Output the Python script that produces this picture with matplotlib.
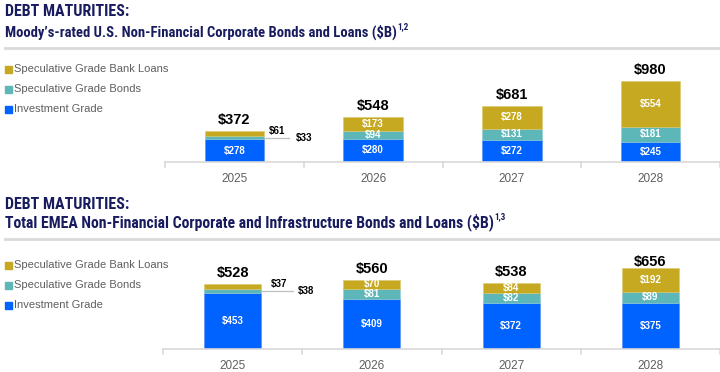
import matplotlib
matplotlib.use('Agg')
import matplotlib.pyplot as plt
from matplotlib import font_manager
from matplotlib.lines import Line2D
from matplotlib.patches import Rectangle

# ============ DATA ============
years = ['2025', '2026', '2027', '2028']

us_ig = [278, 280, 272, 245]
us_sg_bonds = [33, 94, 131, 181]
us_sg_loans = [61, 173, 278, 554]
us_totals = [372, 548, 681, 980]

emea_ig = [453, 409, 372, 375]
emea_sg_bonds = [38, 81, 82, 89]
emea_sg_loans = [37, 70, 84, 192]
emea_totals = [528, 560, 538, 656]

series_names = ['Speculative Grade Bank Loans', 'Speculative Grade Bonds', 'Investment Grade']

# ============ STYLE ============
C_LOANS = '#c6a921'
C_BONDS = '#5db6b8'
C_IG = '#0062ff'
NAVY = '#181b5e'
GRAY_TXT = '#5f5f5f'
GRAY_LINE = '#d9d9d9'

W, H = 720, 372
names = {f.name for f in font_manager.fontManager.ttflist}
NARROW = 'Liberation Sans'
for cand in ['Roboto Condensed', 'Liberation Sans Narrow', 'IBM Plex Sans Condensed',
             'Fira Sans Condensed', 'Barlow Semi Condensed']:
    if cand in names:
        NARROW = cand
        break
plt.rcParams['font.family'] = ['Liberation Sans', 'DejaVu Sans']

fig = plt.figure(figsize=(W / 100, H / 100), dpi=100)


def fx(px):
    return px / W


def fy(py):
    return 1 - py / H


def fit_text(y, s, size, target_right, lo):
    # resize the header font so the line ends about where it does in the reference
    t = fig.text(fx(5), fy(y), s, family=NARROW, fontsize=size, fontweight='bold',
                 color=NAVY, va='center', ha='left')
    fig.canvas.draw()
    w = t.get_window_extent().width
    scale = min(max((target_right - 5) / w, lo), 1.15)
    t.set_fontsize(size * scale)
    fig.canvas.draw()
    return t


def header(y_title, y_sub, y_rule, subtitle, sup, sub_right):
    fit_text(y_title, 'DEBT MATURITIES:', 13, 130, 0.88)
    t = fit_text(y_sub, subtitle, 10.5, sub_right, 0.85)
    bb = t.get_window_extent()
    fig.text(bb.x1 / W + 0.001, fy(y_sub - 5), sup, family=NARROW, fontsize=6.5,
             fontweight='bold', color=NAVY, va='center', ha='left')
    fig.add_artist(Line2D([fx(5), fx(720)], [fy(y_rule), fy(y_rule)],
                          color=GRAY_LINE, linewidth=2, transform=fig.transFigure))


def legend(y_first):
    for k, (name, c) in enumerate(zip(series_names, [C_LOANS, C_BONDS, C_IG])):
        y = y_first + 20 * k
        fig.add_artist(Rectangle((fx(4.5), fy(y + 3.5)), 7 / W, 7 / H, color=c,
                                 transform=fig.transFigure))
        fig.text(fx(13.5), fy(y), name, fontsize=8, color=GRAY_TXT, va='center', ha='left')


def chart(left, right, top, base, ymax, width, ig, bonds, loans, totals,
          small_x, small_line_end, small_txt_x, total_cap):
    ax = fig.add_axes([fx(left), fy(base), fx(right - left), (base - top) / H])
    x = list(range(len(years)))
    ax.bar(x, ig, width, color=C_IG, edgecolor='#5a8dff', linewidth=0.4)
    ax.bar(x, bonds, width, bottom=ig, color=C_BONDS, edgecolor='#8fcdcf', linewidth=0.4)
    b3 = [a + b for a, b in zip(ig, bonds)]
    ax.bar(x, loans, width, bottom=b3, color=C_LOANS, edgecolor='#dcc970', linewidth=0.4)
    ax.set_xlim(-0.5, len(years) - 0.5)
    ax.set_ylim(0, ymax)
    px_per_unit = (base - top) / ymax

    for i in x:
        segs = [(0, ig[i]), (ig[i], bonds[i]), (ig[i] + bonds[i], loans[i])]
        small = False
        for bottom, v in segs:
            if v * px_per_unit >= 7:
                ax.text(i, bottom + v / 2, f'${v}', ha='center', va='center',
                        color='white', fontsize=7, fontweight='bold')
            else:
                small = True
        if small:
            # tiny segments get a callout to the right of the bar
            yb = ig[i] + bonds[i] / 2
            ax.plot([i + width / 2, i + small_line_end], [yb, yb], color='#bfbfbf',
                    linewidth=0.9, clip_on=False)
            ax.annotate(f'${loans[i]}', xy=(i + small_x, yb), xytext=(0, 1.5),
                        textcoords='offset points', ha='center', va='bottom',
                        fontsize=7, fontweight='bold', color='black')
            ax.text(i + small_txt_x, yb, f'${bonds[i]}', ha='left', va='center',
                    fontsize=7, fontweight='bold', color='black')
        ly = min(totals[i] / ymax + 11 / (base - top), total_cap)
        ax.text(i, ly, f'${totals[i]}', transform=ax.get_xaxis_transform(),
                ha='center', va='center', fontsize=10.5, fontweight='bold', color='black')

    for s in ['top', 'right', 'left']:
        ax.spines[s].set_visible(False)
    ax.spines['bottom'].set_color(GRAY_LINE)
    ax.spines['bottom'].set_linewidth(1.2)
    ax.set_yticks([])
    ax.set_xticks(x)
    ax.set_xticklabels(years, fontsize=8.5, color=GRAY_TXT)
    ax.tick_params(axis='x', length=0, pad=8)
    for b in range(len(years) + 1):
        ax.plot([b - 0.5, b - 0.5], [0, -5 / px_per_unit], color=GRAY_LINE,
                linewidth=1.2, clip_on=False)
    return ax


# ============ TOP: U.S. ============
header(12, 32, 48, 'Moody\u2019s-rated U.S. Non-Financial Corporate Bonds and Loans ($B)', '1,2', 397)
legend(69)
chart(165, 720, 55, 162, 1295, 0.43, us_ig, us_sg_bonds, us_sg_loans, us_totals,
      small_x=0.306, small_line_end=0.396, small_txt_x=0.44, total_cap=1.0)

# ============ BOTTOM: EMEA ============
header(205, 222, 239, 'Total EMEA Non-Financial Corporate and Infrastructure Bonds and Loans ($B)',
       '1,3', 496)
legend(265)
chart(163, 720, 245, 349, 845, 0.41, emea_ig, emea_sg_bonds, emea_sg_loans, emea_totals,
      small_x=0.333, small_line_end=0.43, small_txt_x=0.47, total_cap=(349 - 262) / (349 - 245))

fig.savefig('out.png', dpi=100)
